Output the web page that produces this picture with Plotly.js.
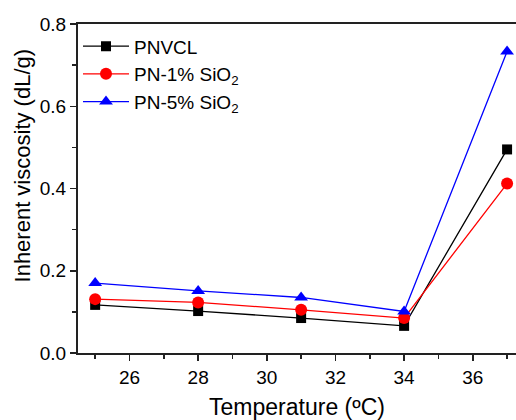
<!DOCTYPE html>
<html><head><meta charset="utf-8">
<script src="https://cdn.plot.ly/plotly-3.0.1.min.js"></script>
<style>html,body{margin:0;padding:0;overflow:hidden;background:#fff}</style>
</head><body><div id="chart" style="width:516px;height:420px"></div>
<script>
const temperature = [25, 28, 31, 34, 37];
const pnvcl = [0.117, 0.102, 0.085, 0.066, 0.495];
const pn1 = [0.131, 0.123, 0.105, 0.085, 0.412];
const pn5 = [0.170, 0.151, 0.135, 0.101, 0.733];
const seriesNames = ['PNVCL', 'PN-1% SiO<sub>2</sub>', 'PN-5% SiO<sub>2</sub>'];
const xTicks = [26, 28, 30, 32, 34, 36];
const yTicks = [0.0, 0.2, 0.4, 0.6, 0.8];
const xTitle = 'Temperature (ºC)';
const yTitle = 'Inherent viscosity (dL/g)';

const font = 'Liberation Sans, Arial, sans-serif';
const traces = [
  {x: temperature, y: pnvcl, name: seriesNames[0], mode: 'lines+markers',
   line: {color: '#000000', width: 1.3}, marker: {symbol: 'square', size: 10, color: '#000000'}},
  {x: temperature, y: pn1, name: seriesNames[1], mode: 'lines+markers',
   line: {color: '#ff0000', width: 1.3}, marker: {symbol: 'circle', size: 12, color: '#ff0000'}},
  {x: temperature, y: pn5, name: seriesNames[2], mode: 'lines+markers',
   line: {color: '#0000ff', width: 1.3}, marker: {symbol: 'triangle-up', size: 12, color: '#0000ff'}}
];
const layout = {
  width: 516, height: 420,
  margin: {l: 78, r: 0, t: 24, b: 67},
  paper_bgcolor: '#fff', plot_bgcolor: '#fff',
  font: {family: font, size: 19, color: '#000'},
  showlegend: true,
  legend: {x: 0.0, y: 0.99, xanchor: 'left', yanchor: 'top', bgcolor: 'rgba(0,0,0,0)',
           itemwidth: 46,
           font: {family: font, size: 19, color: '#000'}, tracegroupgap: 0},
  xaxis: {
    range: [24.5, 37.26], tickvals: xTicks, ticktext: xTicks.map(String),
    showgrid: false, zeroline: false, showline: true, linecolor: '#222', linewidth: 2,
    mirror: true, ticks: 'outside', ticklen: 6, tickwidth: 1.5, tickcolor: '#222',
    minor: {dtick: 1, tick0: 25, ticks: 'outside', ticklen: 4, tickwidth: 1.5, tickcolor: '#222', showgrid: false},
    tickfont: {size: 19, family: font},
    title: {text: xTitle, font: {size: 23, family: font}, standoff: 13}
  },
  yaxis: {
    range: [0, 0.8], tickvals: yTicks, ticktext: yTicks.map(v => v.toFixed(1)),
    showgrid: false, zeroline: false, showline: true, linecolor: '#222', linewidth: 2,
    ticks: 'outside', ticklen: 6, tickwidth: 1.5, tickcolor: '#222',
    minor: {dtick: 0.1, ticks: 'outside', ticklen: 4, tickwidth: 1.5, tickcolor: '#222', showgrid: false},
    tickfont: {size: 19, family: font}
  },
  annotations: [{
    text: yTitle, xref: 'paper', yref: 'paper', x: 0, y: 0.57,
    xanchor: 'center', yanchor: 'middle', xshift: -56, textangle: -90, showarrow: false,
    font: {size: 22, family: font, color: '#000'}
  }]
};
Plotly.newPlot('chart', traces, layout, {displayModeBar: false, staticPlot: true});
</script></body></html>
